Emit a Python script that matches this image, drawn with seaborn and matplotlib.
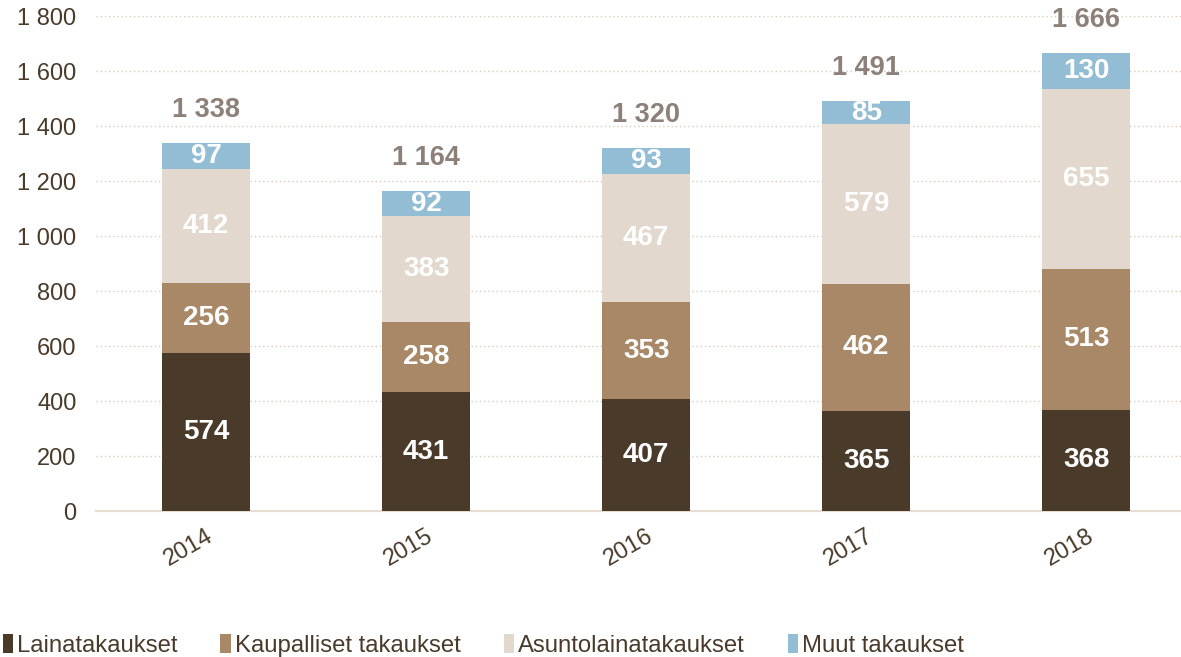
import numpy as np
import pandas as pd
import matplotlib.pyplot as plt
import seaborn as sns
from matplotlib.patches import Patch
from matplotlib.ticker import FuncFormatter

# data
vuodet = ['2014', '2015', '2016', '2017', '2018']
lainatakaukset = [574, 431, 407, 365, 368]
kaupalliset = [256, 258, 353, 462, 513]
asuntolaina = [412, 383, 467, 579, 655]
muut = [97, 92, 93, 85, 130]
yhteensa = [1338, 1164, 1320, 1491, 1666]

sarjat = ['Lainatakaukset', 'Kaupalliset takaukset', 'Asuntolainatakaukset', 'Muut takaukset']
arvot = [lainatakaukset, kaupalliset, asuntolaina, muut]
varit = ['#4a3a2a', '#a88866', '#e2d8ce', '#92bdd4']

sns.set_style('white')
plt.rcParams['font.family'] = ['Liberation Sans', 'DejaVu Sans']

fig = plt.figure(figsize=(11.81, 6.57), dpi=100)
ax = fig.add_axes([0.0813, 0.2222, 0.9187, 0.7534])

def fmt(v):
    return f'{int(v):,}'.replace(',', ' ')

pohja = np.zeros(len(vuodet))
for nimi, arvo, vari in zip(sarjat, arvot, varit):
    df = pd.DataFrame({'vuosi': vuodet, 'arvo': arvo})
    sns.barplot(data=df, x='vuosi', y='arvo', color=vari, width=0.4,
                bottom=pohja, ax=ax, saturation=1, zorder=3, linewidth=0)
    for i, v in enumerate(arvo):
        ax.text(i, pohja[i] + v / 2, fmt(v), ha='center', va='center',
                color='white', fontsize=20, fontweight='bold', zorder=4)
    pohja = pohja + np.array(arvo)

for i, t in enumerate(yhteensa):
    ax.text(i, pohja[i] + 120, fmt(t), ha='center', va='center',
            color='#8c8078', fontsize=19.5, fontweight='bold', clip_on=False)

ax.set_ylim(0, 1800)
ax.set_xlim(-0.5, 4.43)
ax.set_yticks(np.arange(0, 1801, 200))
ax.yaxis.set_major_formatter(FuncFormatter(lambda v, p: fmt(v)))
ax.grid(axis='y', color='#d9cbbd', linestyle=(0, (1, 2)), linewidth=1, zorder=0)
ax.set_xlabel('')
ax.set_ylabel('')
for s in ['left', 'right', 'top']:
    ax.spines[s].set_visible(False)
ax.spines['bottom'].set_color('#e8ddd3')
ax.spines['bottom'].set_linewidth(1.5)
ax.tick_params(axis='both', length=0, labelsize=17, colors='#4a3a2a')
ax.tick_params(axis='y', pad=14)
ax.tick_params(axis='x', pad=10)
plt.setp(ax.get_xticklabels(), rotation=30, ha='right', rotation_mode='anchor')

kahvat = [Patch(facecolor=c, edgecolor='none') for c in varit]
fig.legend(kahvat, sarjat, loc='lower left', bbox_to_anchor=(-0.016, -0.032), ncol=4,
           frameon=False, fontsize=17.2, handlelength=0.45, handleheight=0.85,
           handletextpad=0.15, columnspacing=1.8, labelcolor='#4a3a2a')

fig.savefig('out.png', dpi=100)
